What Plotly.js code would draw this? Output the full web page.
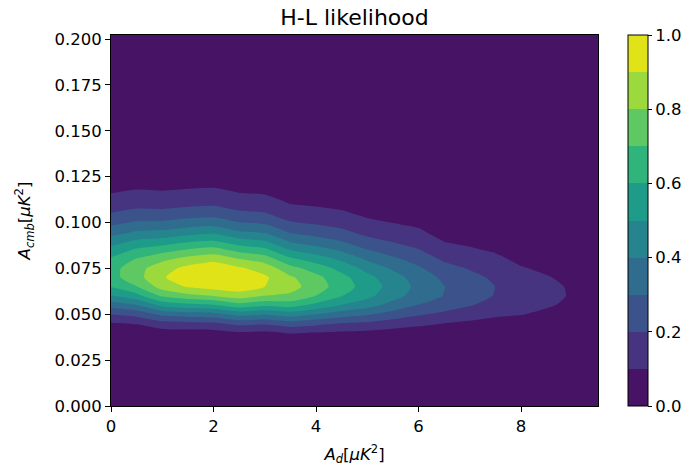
<!DOCTYPE html>
<html>
<head>
<meta charset="utf-8">
<script src="https://cdn.plot.ly/plotly-3.0.1.min.js"></script>
<style>html,body{margin:0;padding:0;background:#fff;}#chart{width:688px;height:467px;}</style>
</head>
<body>
<div id="chart"></div>
<script>
// A_d grid (x) and A_cmb grid (y)
var adValues = [0, 0.5, 1, 1.5, 2, 2.5, 3, 3.5, 4, 4.5, 5, 5.5, 6, 6.5, 7, 7.5, 8, 8.5, 9, 9.5];
var acmbValues = [0, 0.02, 0.03, 0.035, 0.04, 0.045, 0.05, 0.055, 0.06, 0.065, 0.07, 0.075, 0.08, 0.085,
  0.09, 0.095, 0.1, 0.105, 0.11, 0.115, 0.12, 0.125, 0.13, 0.14, 0.16, 0.2022];

// normalised likelihood, one array per A_d column (values along A_cmb)
var L_ad0_0 = [0,0,0.001,0.007,0.031,0.093,0.202,0.346,0.491,0.604,0.663,0.663,0.616,0.538,0.446,0.355,0.273,0.204,0.148,0.106,0.074,0.051,0.035,0.015,0.003,0];
var L_ad0_5 = [0,0,0.001,0.008,0.036,0.107,0.233,0.397,0.564,0.695,0.762,0.762,0.708,0.618,0.513,0.408,0.313,0.234,0.170,0.122,0.085,0.059,0.040,0.018,0.003,0];
var L_ad1_0 = [0,0,0.002,0.014,0.059,0.162,0.328,0.529,0.714,0.842,0.890,0.862,0.777,0.661,0.537,0.419,0.316,0.232,0.166,0.117,0.081,0.055,0.037,0.017,0.003,0];
var L_ad1_5 = [0,0,0.002,0.015,0.063,0.175,0.353,0.570,0.770,0.908,0.960,0.929,0.838,0.713,0.579,0.452,0.341,0.251,0.180,0.127,0.087,0.060,0.040,0.018,0.004,0];
var L_ad2_0 = [0,0,0.002,0.016,0.066,0.182,0.367,0.593,0.800,0.944,0.998,0.966,0.871,0.742,0.602,0.470,0.354,0.260,0.187,0.132,0.091,0.062,0.042,0.019,0.004,0];
var L_ad2_5 = [0,0,0.004,0.025,0.091,0.230,0.435,0.661,0.849,0.958,0.976,0.916,0.805,0.669,0.532,0.408,0.303,0.220,0.156,0.109,0.074,0.050,0.034,0.015,0.003,0];
var L_ad3_0 = [0,0,0.004,0.023,0.086,0.216,0.408,0.620,0.797,0.900,0.916,0.860,0.755,0.628,0.500,0.383,0.284,0.206,0.146,0.102,0.070,0.047,0.032,0.014,0.003,0];
var L_ad3_5 = [0,0,0.005,0.032,0.109,0.255,0.449,0.641,0.780,0.838,0.816,0.736,0.622,0.499,0.384,0.286,0.207,0.145,0.101,0.069,0.046,0.030,0.020,0.008,0.001,0];
var L_ad4_0 = [0,0,0.005,0.029,0.098,0.228,0.401,0.572,0.697,0.749,0.729,0.657,0.555,0.446,0.343,0.255,0.185,0.130,0.090,0.062,0.041,0.027,0.018,0.008,0.001,0];
var L_ad4_5 = [0,0,0.004,0.025,0.085,0.198,0.348,0.496,0.604,0.649,0.632,0.569,0.481,0.386,0.297,0.221,0.160,0.112,0.078,0.053,0.036,0.023,0.016,0.007,0.001,0];
var L_ad5_0 = [0,0,0.004,0.023,0.078,0.180,0.313,0.440,0.526,0.555,0.530,0.468,0.387,0.305,0.230,0.167,0.118,0.082,0.056,0.037,0.024,0.016,0.010,0.004,0.001,0];
var L_ad5_5 = [0,0,0.003,0.019,0.064,0.149,0.259,0.365,0.436,0.460,0.439,0.388,0.321,0.253,0.190,0.138,0.098,0.068,0.046,0.030,0.020,0.013,0.008,0.003,0,0];
var L_ad6_0 = [0,0,0.003,0.015,0.053,0.122,0.212,0.297,0.356,0.375,0.358,0.316,0.262,0.206,0.155,0.113,0.080,0.055,0.038,0.025,0.017,0.011,0.007,0.003,0,0];
var L_ad6_5 = [0,0,0.002,0.011,0.041,0.099,0.178,0.251,0.296,0.303,0.279,0.235,0.184,0.136,0.096,0.066,0.043,0.028,0.018,0.011,0.007,0.004,0.002,0.001,0,0];
var L_ad7_0 = [0,0,0.001,0.009,0.033,0.082,0.146,0.206,0.243,0.249,0.229,0.193,0.151,0.112,0.079,0.054,0.036,0.023,0.015,0.009,0.006,0.003,0.002,0.001,0,0];
var L_ad7_5 = [0,0,0.001,0.007,0.027,0.065,0.117,0.165,0.194,0.199,0.183,0.154,0.121,0.089,0.063,0.043,0.028,0.018,0.012,0.007,0.004,0.003,0.002,0.001,0,0];
var L_ad8_0 = [0,0,0.001,0.006,0.024,0.060,0.104,0.141,0.159,0.155,0.135,0.107,0.079,0.055,0.037,0.024,0.015,0.009,0.005,0.003,0.002,0.001,0,0,0,0];
var L_ad8_5 = [0,0,0.001,0.005,0.019,0.047,0.081,0.110,0.124,0.121,0.106,0.084,0.062,0.043,0.029,0.018,0.011,0.007,0.004,0.002,0.001,0.001,0,0,0,0];
var L_ad9_0 = [0,0,0,0.004,0.014,0.035,0.060,0.082,0.092,0.090,0.078,0.062,0.046,0.032,0.021,0.014,0.008,0.005,0.003,0.002,0.001,0.001,0,0,0,0];
var L_ad9_5 = [0,0,0,0.003,0.011,0.026,0.045,0.062,0.070,0.068,0.059,0.047,0.035,0.024,0.016,0.010,0.006,0.004,0.002,0.001,0.001,0,0,0,0,0];

var yTicks = [0, 0.025, 0.05, 0.075, 0.1, 0.125, 0.15, 0.175, 0.2];
var xTicks = [0, 2, 4, 6, 8];
var cbTicks = [0, 0.2, 0.4, 0.6, 0.8, 1.0];

// colours of the ten filled bands (viridis at band centres)
var bandColors = ['#471365','#463480','#3b528b','#2f6c8e','#25848e','#1e9c89','#2fb47c','#5ec962','#9bd93c','#dfe318'];

var zCols = [L_ad0_0, L_ad0_5, L_ad1_0, L_ad1_5, L_ad2_0, L_ad2_5, L_ad3_0, L_ad3_5, L_ad4_0, L_ad4_5,
  L_ad5_0, L_ad5_5, L_ad6_0, L_ad6_5, L_ad7_0, L_ad7_5, L_ad8_0, L_ad8_5, L_ad9_0, L_ad9_5];

var colorscale = bandColors.map(function (c, i) { return [i / (bandColors.length - 1), c]; });

var font = 'DejaVu Sans, Liberation Sans, sans-serif';

var trace = {
  type: 'contour',
  x: adValues,
  y: acmbValues,
  z: zCols,
  transpose: true,
  zmin: 0,
  zmax: 1,
  autocontour: false,
  contours: {start: 0.1, end: 0.9, size: 0.1, coloring: 'fill', showlines: false},
  line: {width: 0, smoothing: 0.6},
  colorscale: colorscale,
  hoverinfo: 'skip',
  colorbar: {
    x: 1.0616, xanchor: 'left', xpad: 0,
    y: 0.5, yanchor: 'middle', ypad: 0,
    len: 1, lenmode: 'fraction',
    thickness: 20,
    outlinecolor: '#000', outlinewidth: 1,
    tickmode: 'array', tickvals: cbTicks,
    ticktext: cbTicks.map(function (v) { return v.toFixed(1); }),
    ticks: 'outside', ticklen: 4, tickcolor: '#000',
    tickfont: {family: font, size: 16.5, color: '#000'}
  }
};

var layout = {
  width: 688, height: 467,
  margin: {l: 111, r: 90, t: 35, b: 61, autoexpand: false},
  paper_bgcolor: '#fff', plot_bgcolor: '#fff',
  font: {family: font, color: '#000'},
  title: {text: 'H-L likelihood', x: 0.5, xref: 'paper', xanchor: 'center', y: 0.963, yanchor: 'middle',
    font: {family: font, size: 22, color: '#000'}},
  xaxis: {
    range: [0, 9.5], tickmode: 'array', tickvals: xTicks, ticktext: xTicks.map(String),
    ticks: 'outside', ticklen: 5, tickcolor: '#000', tickwidth: 1,
    showline: true, mirror: true, linecolor: '#000', linewidth: 1,
    showgrid: false, zeroline: false, automargin: false,
    tickfont: {family: font, size: 16.5, color: '#000'},
    title: {text: '<i>A</i><sub><i>d</i></sub>[<i>μK</i><sup>2</sup>]', standoff: 13,
      font: {family: font, size: 16.5, color: '#000'}}
  },
  yaxis: {
    range: [0, 0.2022], tickmode: 'array', tickvals: yTicks, ticktext: yTicks.map(function (v) { return v.toFixed(3); }),
    ticks: 'outside', ticklen: 5, tickcolor: '#000', tickwidth: 1,
    showline: true, mirror: true, linecolor: '#000', linewidth: 1,
    showgrid: false, zeroline: false, automargin: false,
    tickfont: {family: font, size: 16.5, color: '#000'},
    title: {text: '<i>A</i><sub><i>cmb</i></sub>[<i>μK</i><sup>2</sup>]', standoff: 19,
      font: {family: font, size: 16.5, color: '#000'}}
  }
};

Plotly.newPlot('chart', [trace], layout, {displayModeBar: false, staticPlot: true});
</script>
</body>
</html>
